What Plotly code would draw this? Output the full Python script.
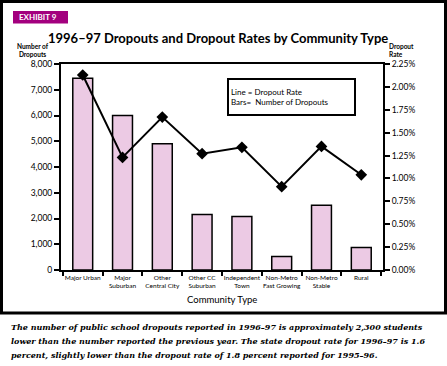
import plotly.graph_objects as go

categories = ["Major Urban", "Major<br>Suburban", "Other<br>Central City", "Other CC<br>Suburban",
              "Independent<br>Town", "Non-Metro<br>Fast Growing", "Non-Metro<br>Stable", "Rural"]
dropouts = [7450, 6000, 4900, 2160, 2080, 520, 2510, 870]
rates = [2.13, 1.23, 1.67, 1.27, 1.34, 0.91, 1.35, 1.04]
caption_lines = [
    "The number of public school dropouts reported in 1996–97 is approximately 2,300 students",
    "lower than the number reported the previous year. The state dropout rate for 1996–97 is 1.6",
    "percent, slightly lower than the dropout rate of 1.8 percent reported for 1995–96.",
]

W, H = 447, 366
L, R, T, B = 61, 383, 64, 270


def fx(px):
    return (px - L) / (R - L)


def fy(py):
    return (B - py) / (B - T)


FONT = "Lato"
fig = go.Figure()
fig.add_trace(go.Bar(x=categories, y=dropouts, width=0.5,
                     marker=dict(color="#ECCAE4", line=dict(color="black", width=1.5)),
                     showlegend=False))
fig.add_trace(go.Scatter(x=categories, y=rates, yaxis="y2", mode="lines+markers",
                         line=dict(color="black", width=2),
                         marker=dict(symbol="diamond", size=9, color="black"),
                         showlegend=False))

fig.update_layout(
    width=W, height=H,
    margin=dict(l=L, r=W - R, t=T, b=H - B, pad=0),
    paper_bgcolor="white", plot_bgcolor="white",
    font=dict(family=FONT, color="black"),
    xaxis=dict(showline=True, linecolor="black", linewidth=2, mirror=True,
               ticks="outside", tickson="boundaries", ticklen=4, tickwidth=1.5, tickcolor="black",
               tickfont=dict(size=6.5, family=FONT), showgrid=False, tickangle=0),
    yaxis=dict(range=[0, 8000], dtick=1000, tickformat=",d", showline=True, linecolor="black",
               linewidth=2, ticks="outside", ticklen=5, tickwidth=1.5, tickcolor="black",
               tickfont=dict(size=8.5, family=FONT), showgrid=False, zeroline=False),
    yaxis2=dict(range=[0, 2.25], dtick=0.25, tickformat=".2f", ticksuffix="%", overlaying="y",
                side="right", showline=True, linecolor="black", linewidth=2, ticks="outside",
                ticklen=5, tickwidth=1.5, tickcolor="black",
                tickfont=dict(size=8.5, family=FONT), showgrid=False, zeroline=False),
    bargap=0.5,
)

shapes = [
    dict(type="rect", xref="paper", yref="paper", x0=fx(1.5), x1=fx(445.5), y0=fy(1.5), y1=fy(313),
         line=dict(color="black", width=3), fillcolor="rgba(0,0,0,0)", layer="below"),
    dict(type="rect", xref="paper", yref="paper", x0=fx(13), x1=fx(68), y0=fy(11), y1=fy(23.5),
         line=dict(width=0), fillcolor="#A3007E", layer="below"),
]
fig.update_layout(shapes=shapes)

ann = [
    dict(x=fx(17), y=fy(17.2), text="<b>EXHIBIT 9</b>", xanchor="left", yanchor="middle",
         font=dict(size=8, color="white", family=FONT)),
    dict(x=fx(218), y=fy(38), text="<b>1996–97 Dropouts and Dropout Rates by Community Type</b>",
         xanchor="center", yanchor="middle", font=dict(size=13, family=FONT)),
    dict(x=fx(33), y=fy(50.5), text="<b>Number of<br>Dropouts</b>", xanchor="center", yanchor="middle",
         align="center", font=dict(size=6.5, family=FONT)),
    dict(x=fx(387), y=fy(50.5), text="<b>Dropout<br>Rate</b>", xanchor="left", yanchor="middle",
         align="left", font=dict(size=6.5, family=FONT)),
    dict(x=fx(222), y=fy(299), text="Community Type", xanchor="center", yanchor="middle",
         font=dict(size=9.5, family=FONT)),
    dict(x=fx(227), y=fy(78), text="Line = Dropout Rate<br>Bars=  Number of Dropouts",
         xanchor="left", yanchor="top", align="left", width=121, height=30, borderpad=2,
         bordercolor="black", borderwidth=2, bgcolor="white", font=dict(size=8, family=FONT)),
]
for i, line in enumerate(caption_lines):
    ann.append(dict(x=fx(9), y=fy(327 + 14 * i), text="<b><i>" + line + "</i></b>",
                    xanchor="left", yanchor="middle", align="left",
                    font=dict(size=8, family="DejaVu Serif")))
for a in ann:
    a.update(xref="paper", yref="paper", showarrow=False)
fig.update_layout(annotations=ann)

fig.write_html("out.html", config={"displayModeBar": False},
               post_script="document.body.style.margin='0';document.body.style.overflow='hidden';")
